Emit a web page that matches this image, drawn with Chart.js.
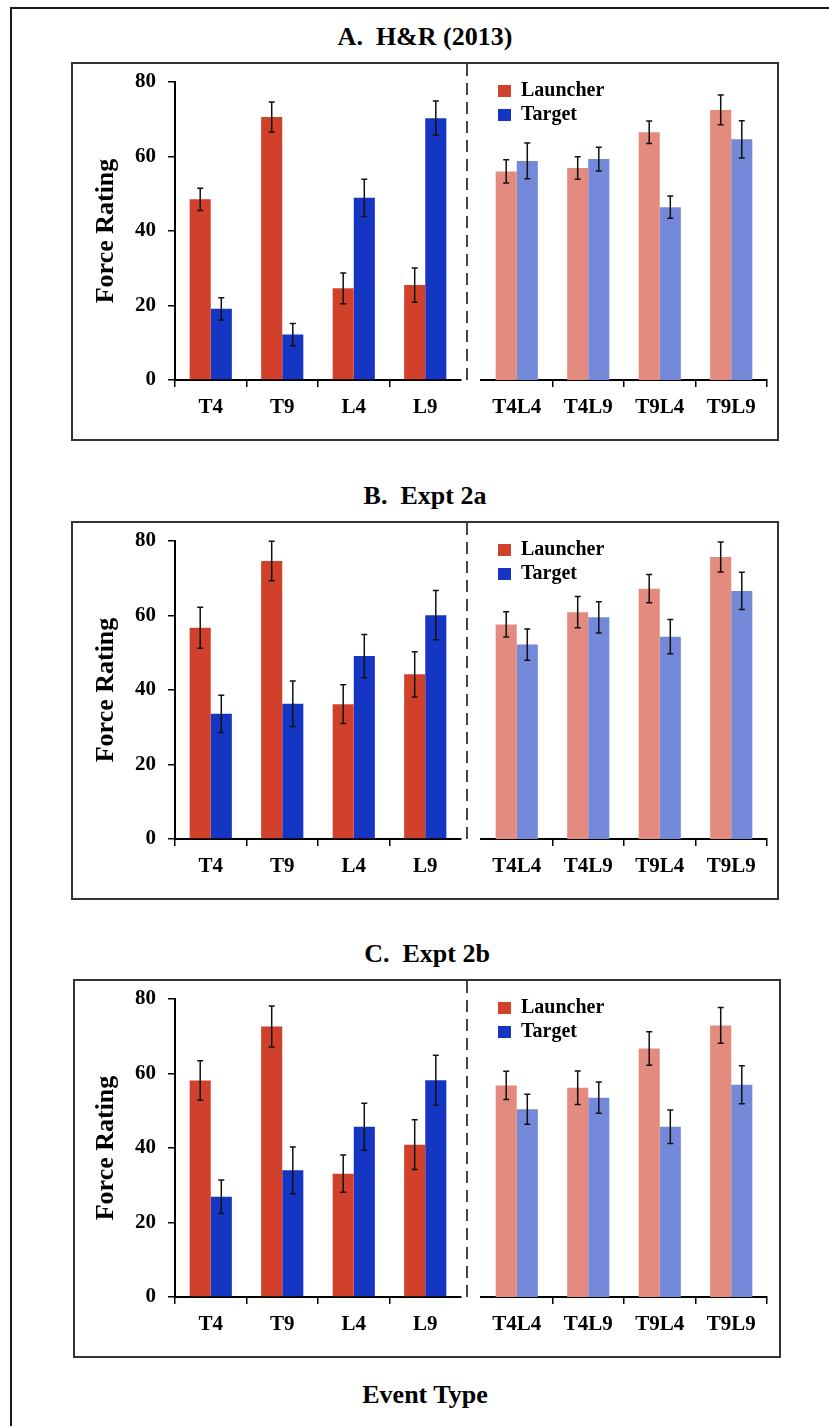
<!DOCTYPE html>
<html>
<head>
<meta charset="utf-8">
<script src="https://cdn.jsdelivr.net/npm/chart.js@4.4.1/dist/chart.umd.min.js"></script>
<style>
  body { margin: 0; background: #fff; }
  #page { position: relative; width: 829px; height: 1426px; overflow: hidden; font-family: "Liberation Serif", serif; color: #000; }
  .frame { position: absolute; left: 10px; top: 7px; width: 900px; height: 1500px; border-top: 2px solid #1a1a1a; border-left: 2px solid #1a1a1a; }
  .box { position: absolute; border: 2px solid #333; box-sizing: border-box; }
  .title { position: absolute; font-weight: bold; font-size: 26px; line-height: 30px; text-align: center; white-space: pre; }
  canvas { position: absolute; }
</style>
</head>
<body>
<div id="page">
  <div class="frame"></div>
  <div class="title" style="left:71px; width:708px; top:1380px;">Event Type</div>
</div>
<script>
// categories
const singleEvents = ['T4', 'T9', 'L4', 'L9'];
const combinedEvents = ['T4L4', 'T4L9', 'T9L4', 'T9L9'];
const yTicks = [0, 20, 40, 60, 80];

// A. H&R (2013)
const aLauncher    = [48.5, 70.6, 24.6, 25.5, 56.0, 56.9, 66.5, 72.5];
const aLauncherErr = [3.0, 4.0, 4.1, 4.6, 3.1, 3.0, 3.0, 4.0];
const aTarget      = [19.1, 12.2, 48.9, 70.3, 58.8, 59.3, 46.4, 64.6];
const aTargetErr   = [3.0, 3.0, 5.0, 4.6, 4.8, 3.2, 3.0, 5.0];

// B. Expt 2a
const bLauncher    = [56.7, 74.6, 36.2, 44.2, 57.6, 60.9, 67.2, 75.7];
const bLauncherErr = [5.5, 5.3, 5.2, 6.1, 3.4, 4.2, 3.8, 4.0];
const bTarget      = [33.6, 36.3, 49.1, 60.1, 52.2, 59.5, 54.3, 66.6];
const bTargetErr   = [5.0, 6.1, 5.8, 6.6, 4.2, 4.2, 4.6, 5.0];

// C. Expt 2b
const cLauncher    = [58.1, 72.6, 33.1, 40.9, 56.8, 56.2, 66.7, 72.9];
const cLauncherErr = [5.3, 5.5, 5.0, 6.7, 3.8, 4.5, 4.5, 4.8];
const cTarget      = [26.9, 34.0, 45.7, 58.2, 50.4, 53.5, 45.7, 57.0];
const cTargetErr   = [4.5, 6.3, 6.3, 6.7, 4.0, 4.2, 4.5, 5.1];

const RED = '#d0402a', BLUE = '#1436c2';
const RED_LIGHT = '#e28b7e', BLUE_LIGHT = '#7489da';

Chart.defaults.font.family = '"Liberation Serif", serif';
Chart.defaults.font.weight = 'bold';
Chart.defaults.color = '#000';

const errorBars = {
  id: 'errorBars',
  afterDatasetsDraw(chart) {
    const ctx = chart.ctx, y = chart.scales.y;
    ctx.save();
    ctx.strokeStyle = '#111';
    ctx.lineWidth = 1.5;
    chart.data.datasets.forEach((ds, i) => {
      chart.getDatasetMeta(i).data.forEach((bar, j) => {
        const v = ds.data[j], e = ds.errors[j];
        const top = y.getPixelForValue(v + e), bot = y.getPixelForValue(v - e);
        ctx.beginPath();
        ctx.moveTo(bar.x, top); ctx.lineTo(bar.x, bot);
        ctx.moveTo(bar.x - 3, top); ctx.lineTo(bar.x + 3, top);
        ctx.moveTo(bar.x - 3, bot); ctx.lineTo(bar.x + 3, bot);
        ctx.stroke();
      });
    });
    ctx.restore();
  }
};

// dashed divider + legend placement for the right half
const divider = {
  id: 'divider',
  beforeDraw(chart, args, opts) {
    if (chart.legend) {
      chart.legend.left = chart.chartArea.left + opts.dx;
      chart.legend.top = chart.chartArea.top + opts.dy;
    }
  },
  afterDraw(chart, args, opts) {
    const ctx = chart.ctx, x = chart.chartArea.left - opts.gap;
    ctx.save();
    ctx.strokeStyle = '#444';
    ctx.lineWidth = 2;
    ctx.setLineDash([12, 7]);
    ctx.beginPath();
    ctx.moveTo(x, 0);
    ctx.lineTo(x, chart.chartArea.bottom + 7);
    ctx.stroke();
    ctx.restore();
  }
};

function bars(label, data, errors, color) {
  return {
    label: label, data: data, errors: errors,
    backgroundColor: color, borderWidth: 0,
    categoryPercentage: 0.59, barPercentage: 1.0
  };
}

function xAxis(hideTick) {
  return {
    type: 'category', offset: true,
    grid: {
      offset: true, drawOnChartArea: false, drawTicks: true, tickLength: 7, lineWidth: 1.5,
      color: hideTick
    },
    border: { color: '#000', width: 2 },
    ticks: { font: { size: 21, weight: 'bold' }, color: '#000', padding: 8, maxRotation: 0, autoSkip: false },
    afterFit: s => { s.height = 59; s.paddingLeft = 0; s.paddingRight = 0; }
  };
}

const panels = [
  { name: 'A.  H&R (2013)', top: 62, left: 71, L: aLauncher, LE: aLauncherErr, T: aTarget, TE: aTargetErr },
  { name: 'B.  Expt 2a', top: 521, left: 71, L: bLauncher, LE: bLauncherErr, T: bTarget, TE: bTargetErr },
  { name: 'C.  Expt 2b', top: 979, left: 73, L: cLauncher, LE: cLauncherErr, T: cTarget, TE: cTargetErr }
];

const page = document.getElementById('page');

panels.forEach(p => {
  const box = document.createElement('div');
  box.className = 'box';
  box.style.left = p.left + 'px';
  box.style.top = p.top + 'px';
  box.style.width = '708px';
  box.style.height = '379px';
  page.appendChild(box);

  const title = document.createElement('div');
  title.className = 'title';
  title.textContent = p.name;
  title.style.left = p.left + 'px';
  title.style.width = '708px';
  title.style.top = (p.top - 40) + 'px';
  page.appendChild(title);

  // left half: single events
  const lc = document.createElement('canvas');
  lc.width = 394; lc.height = 375;
  lc.style.left = '73px';
  lc.style.top = (p.top + 2) + 'px';
  page.appendChild(lc);

  new Chart(lc, {
    type: 'bar',
    data: {
      labels: singleEvents,
      datasets: [
        bars('Launcher', p.L.slice(0, 4), p.LE.slice(0, 4), RED),
        bars('Target', p.T.slice(0, 4), p.TE.slice(0, 4), BLUE)
      ]
    },
    options: {
      responsive: false, animation: false, devicePixelRatio: 1,
      events: [],
      layout: { padding: { top: 18, right: 6, left: 0, bottom: 0 } },
      plugins: { legend: { display: false }, tooltip: { enabled: false } },
      scales: {
        x: xAxis(ctx => ctx.tick ? '#000' : 'rgba(0,0,0,0)'),
        y: {
          min: 0, max: 80,
          afterBuildTicks: s => { s.ticks = yTicks.map(v => ({ value: v })); },
          grid: { drawOnChartArea: false, tickLength: 7, lineWidth: 1.5, color: '#000' },
          border: { color: '#000', width: 2 },
          ticks: { font: { size: 21, weight: 'bold' }, color: '#000', padding: 12 },
          title: {
            display: true, text: 'Force Rating', color: '#000',
            font: { size: 26, weight: 'bold' }, padding: { top: 18, bottom: 0 }
          },
          afterFit: s => { s.width = 102; s.paddingTop = 0; s.paddingBottom = 0; }
        }
      }
    },
    plugins: [errorBars]
  });

  // right half: combined events
  const rc = document.createElement('canvas');
  rc.width = 314; rc.height = 375;
  rc.style.left = '462px';
  rc.style.top = (p.top + 2) + 'px';
  page.appendChild(rc);

  new Chart(rc, {
    type: 'bar',
    data: {
      labels: combinedEvents,
      datasets: [
        bars('Launcher', p.L.slice(4), p.LE.slice(4), RED_LIGHT),
        bars('Target', p.T.slice(4), p.TE.slice(4), BLUE_LIGHT)
      ]
    },
    options: {
      responsive: false, animation: false, devicePixelRatio: 1,
      events: [],
      layout: { padding: { top: 18, right: 9, left: 19, bottom: 0 } },
      plugins: {
        tooltip: { enabled: false },
        legend: {
          position: 'chartArea', align: 'start',
          labels: {
            boxWidth: 13, boxHeight: 12, padding: 4, color: '#000',
            font: { size: 20, weight: 'bold' },
            generateLabels: chart => chart.data.datasets.map((ds, i) => ({
              text: ds.label, fillStyle: [RED, BLUE][i], strokeStyle: [RED, BLUE][i],
              lineWidth: 0, hidden: false, datasetIndex: i
            }))
          }
        },
        divider: { gap: 14, dx: 13, dy: -5 }
      },
      scales: {
        x: xAxis(ctx => ctx.index === 0 ? 'rgba(0,0,0,0)' : '#000'),
        y: { display: false, min: 0, max: 80 }
      }
    },
    plugins: [errorBars, divider]
  });
});
</script>
</body>
</html>
